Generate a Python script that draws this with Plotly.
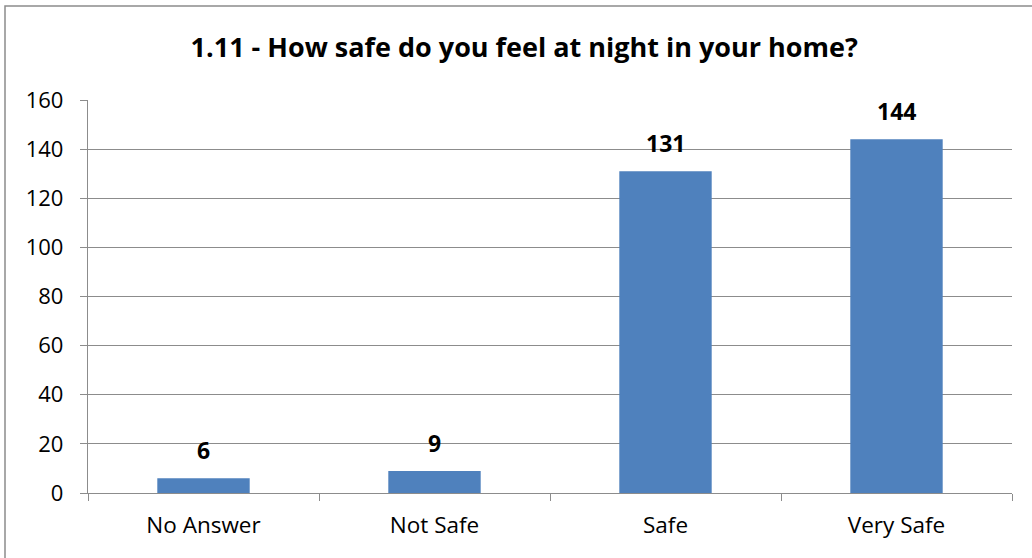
import plotly.graph_objects as go

categories = ["No Answer", "Not Safe", "Safe", "Very Safe"]
counts = [6, 9, 131, 144]
y_ticks = [0, 20, 40, 60, 80, 100, 120, 140, 160]

BAR = "#4F81BD"
GRID = "#8C8C8C"
FONT = "'Open Sans', sans-serif"

fig = go.Figure()
fig.add_trace(go.Bar(
    x=categories, y=counts,
    marker=dict(color=BAR, line=dict(width=0)),
    hoverinfo="x+y",
))

# value labels above bars, with a bit more room than plotly's default outside text
for cat, val in zip(categories, counts):
    fig.add_annotation(x=cat, y=val, text=f"<b>{val}</b>", showarrow=False,
                       yanchor="bottom", yshift=10,
                       font=dict(size=23, family=FONT, color="#000000"))

fig.update_layout(
    width=1032, height=558,
    paper_bgcolor="white", plot_bgcolor="white",
    font=dict(family=FONT, color="#000000", size=22),
    title=dict(text="<b>1.11 - How safe do you feel at night in your home?</b>",
               x=0.508, xanchor="center", y=0.914, yanchor="middle",
               font=dict(size=27, family=FONT)),
    margin=dict(l=88, r=20, t=100, b=65),
    bargap=0.6, showlegend=False,
    xaxis=dict(showline=True, linecolor=GRID, linewidth=1.3, automargin=False,
               ticks="outside", tickson="boundaries", ticklen=7, tickcolor=GRID,
               ticklabelstandoff=12, tickfont=dict(size=22.5), showgrid=False),
    yaxis=dict(range=[0, 160], tickvals=y_ticks, showline=True, linecolor=GRID, linewidth=1.3,
               automargin=False, ticks="outside", ticklen=7, tickcolor=GRID,
               ticklabelstandoff=12,
               showgrid=True, gridcolor=GRID, gridwidth=1.3, zeroline=False,
               tickfont=dict(size=22)),
    shapes=[dict(type="rect", xref="paper", yref="paper",
                 x0=-83 / 924, x1=1.05, y0=-0.3, y1=1 + 94 / 393,
                 line=dict(color="#8C8C8C", width=1.5))],
)

fig.write_html("out.html", config={"displayModeBar": False},
               post_script="document.body.style.margin='0';")
